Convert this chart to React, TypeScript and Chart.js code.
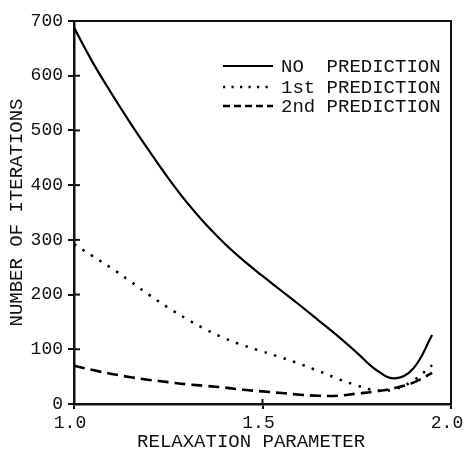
import React, { useEffect, useRef } from "react";
import { Chart, registerables } from "chart.js";

Chart.register(...registerables);

// ---- data ----
const relaxation = [1.0, 1.05, 1.1, 1.15, 1.2, 1.25, 1.3, 1.35, 1.4, 1.45, 1.5, 1.55, 1.6, 1.65, 1.7, 1.75, 1.8, 1.85, 1.9, 1.95];
const noPrediction = [688, 624, 567, 513, 462, 413, 368, 328, 293, 262, 234, 207, 180, 152, 124, 94, 63, 47, 65, 126];
const firstPrediction = [292, 270, 248, 224, 199, 176, 155, 136, 120, 107, 96, 85, 73, 60, 46, 34, 25, 27, 43, 71];
const secondPrediction = [70, 62, 55, 49, 44, 40, 36, 33, 30, 26, 23, 20, 17, 15, 15, 19, 23, 29, 39, 57];
const seriesLabels = ["NO  PREDICTION", "1st PREDICTION", "2nd PREDICTION"];
const xTickValues = [1.0, 1.5, 2.0];
const yTickValues = [0, 100, 200, 300, 400, 500, 600, 700];
const xTitle = "RELAXATION PARAMETER  ";
const yTitle = "NUMBER OF ITERATIONS";

const FONT = "'Liberation Mono', 'DejaVu Sans Mono', monospace";
const INK = "#111";

const legendDashes = [[], [2.2, 6.3], [7, 4]];
const legendWidths = [2.2, 2.3, 2.5];

const framePlugin = {
  id: "frame",
  afterDraw(chart: any) {
    const { ctx, chartArea: a, scales } = chart;
    ctx.save();
    ctx.strokeStyle = INK;
    ctx.lineWidth = 2;
    ctx.beginPath();
    ctx.moveTo(a.left, a.top);
    ctx.lineTo(a.right, a.top);
    ctx.lineTo(a.right, a.bottom);
    ctx.stroke();
    // inward tick marks
    scales.y.ticks.forEach((t: any) => {
      const py = scales.y.getPixelForValue(t.value);
      ctx.beginPath();
      ctx.moveTo(a.left, py);
      ctx.lineTo(a.left + 6, py);
      ctx.stroke();
    });
    scales.x.ticks.forEach((t: any) => {
      const px = scales.x.getPixelForValue(t.value);
      ctx.beginPath();
      ctx.moveTo(px, a.bottom);
      ctx.lineTo(px, a.bottom - 5);
      ctx.stroke();
    });
    // legend
    const rows = [66, 87, 106];
    chart.data.datasets.forEach((ds: any, i: number) => {
      const y = rows[i];
      ctx.save();
      ctx.strokeStyle = ds.borderColor;
      ctx.lineWidth = legendWidths[i];
      ctx.setLineDash(legendDashes[i]);
      ctx.beginPath();
      ctx.moveTo(223, y);
      ctx.lineTo(273, y);
      ctx.stroke();
      ctx.restore();
      ctx.fillStyle = INK;
      ctx.font = `19px ${FONT}`;
      ctx.textBaseline = "middle";
      ctx.textAlign = "left";
      ctx.fillText(ds.label, 281, y + 1);
    });
    ctx.restore();
  },
};

export default function App() {
  const ref = useRef<HTMLCanvasElement | null>(null);
  useEffect(() => {
    if (!ref.current) return;
    const mk = (vals: number[]) => relaxation.map((x, i) => ({ x, y: vals[i] }));
    const chart = new Chart(ref.current, {
      type: "line",
      data: {
        datasets: [
          { label: seriesLabels[0], data: mk(noPrediction), borderColor: "#000", borderWidth: 2.2, pointRadius: 0, tension: 0.4, fill: false },
          { label: seriesLabels[1], data: mk(firstPrediction), borderColor: "#000", borderWidth: 2.5, borderDash: [2.5, 7.5], pointRadius: 0, tension: 0.4, fill: false },
          { label: seriesLabels[2], data: mk(secondPrediction), borderColor: "#000", borderWidth: 2.6, borderDash: [11, 6], pointRadius: 0, tension: 0.4, fill: false },
        ],
      },
      options: {
        animation: false,
        responsive: false,
        devicePixelRatio: 1,
        layout: { padding: { top: 21, right: 13, left: 0, bottom: 0 } },
        plugins: { legend: { display: false }, tooltip: { enabled: false } },
        scales: {
          x: {
            type: "linear",
            min: 1,
            max: 2,
            afterBuildTicks: (s: any) => { s.ticks = xTickValues.map((v) => ({ value: v })); },
            afterFit: (s: any) => { s.height = 47; s.paddingLeft = 0; s.paddingRight = 0; },
            grid: { drawOnChartArea: false, drawTicks: true, tickLength: 5, color: INK, lineWidth: 2 },
            border: { display: true, color: INK, width: 2.5 },
            ticks: {
              color: INK,
              font: { family: FONT, size: 18 },
              padding: 3,
              maxRotation: 0,
              labelOffset: -4,
              callback: (v: any) => Number(v).toFixed(1),
            },
            title: { display: true, text: xTitle, color: INK, font: { family: FONT, size: 19, lineHeight: 1 }, padding: { top: 0, bottom: 0 } },
          },
          y: {
            type: "linear",
            min: 0,
            max: 700,
            afterBuildTicks: (s: any) => { s.ticks = yTickValues.map((v) => ({ value: v })); },
            afterFit: (s: any) => { s.width = 74; },
            grid: { drawOnChartArea: false, drawTicks: true, tickLength: 6, color: INK, lineWidth: 2 },
            border: { display: true, color: INK, width: 2.5 },
            ticks: { color: INK, font: { family: FONT, size: 18 }, padding: 5 },
            title: { display: true, text: yTitle, color: INK, font: { family: FONT, size: 19, lineHeight: 1 }, padding: { top: 7.5, bottom: 0 } },
          },
        },
      },
      plugins: [framePlugin],
    });
    return () => chart.destroy();
  }, []);
  return (
    <div style={{ position: "fixed", left: 0, top: 0, width: 464, height: 451, background: "#fff" }}>
      <canvas ref={ref} width={464} height={451} style={{ display: "block" }} />
    </div>
  );
}
